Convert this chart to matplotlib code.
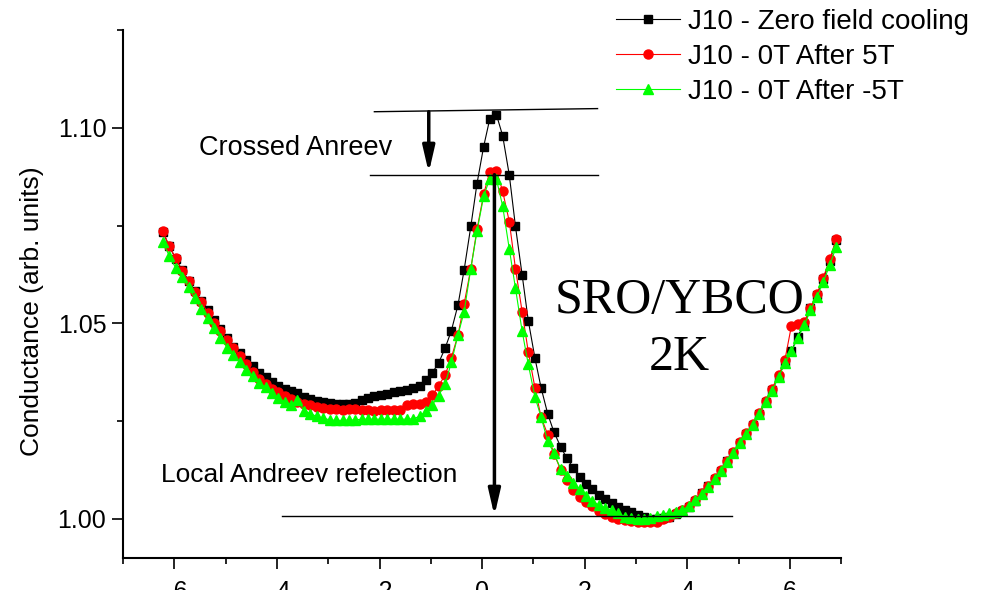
import matplotlib
matplotlib.use('Agg')
import matplotlib.pyplot as plt
from matplotlib.ticker import MultipleLocator, FormatStrFormatter

plt.rcParams['font.family'] = ['Liberation Sans', 'DejaVu Sans']

# bias voltage sweep (mV)
bias = [-6.22, -6.10, -5.97, -5.85, -5.72, -5.60, -5.47, -5.35, -5.22, -5.10,
        -4.97, -4.85, -4.72, -4.60, -4.47, -4.35, -4.22, -4.10, -3.97, -3.85,
        -3.72, -3.60, -3.47, -3.35, -3.22, -3.10, -2.97, -2.85, -2.72, -2.60,
        -2.47, -2.35, -2.22, -2.10, -1.97, -1.85, -1.72, -1.60, -1.47, -1.35,
        -1.22, -1.10, -0.97, -0.85, -0.72, -0.60, -0.47, -0.35, -0.22, -0.10,
        0.03, 0.15, 0.28, 0.40, 0.53, 0.65, 0.78, 0.90, 1.03, 1.15,
        1.28, 1.40, 1.53, 1.65, 1.78, 1.90, 2.03, 2.15, 2.28, 2.40,
        2.53, 2.65, 2.78, 2.90, 3.03, 3.15, 3.28, 3.40, 3.53, 3.65,
        3.78, 3.90, 4.03, 4.15, 4.28, 4.40, 4.53, 4.65, 4.78, 4.90,
        5.03, 5.15, 5.28, 5.40, 5.53, 5.65, 5.78, 5.90, 6.03, 6.15,
        6.28, 6.40, 6.53, 6.65, 6.78, 6.90]

# normalized conductance, zero field cooling
g_zfc = [1.0733, 1.0697, 1.0665, 1.0636, 1.0609, 1.0582, 1.0557, 1.0533, 1.0508, 1.0485,
         1.0462, 1.0440, 1.0425, 1.0407, 1.0390, 1.0374, 1.0362, 1.0350, 1.0341, 1.0333,
         1.0327, 1.0321, 1.0312, 1.0306, 1.0301, 1.0298, 1.0296, 1.0294, 1.0293, 1.0293,
         1.0296, 1.0303, 1.0308, 1.0313, 1.0317, 1.0320, 1.0324, 1.0327, 1.0330, 1.0334,
         1.0340, 1.0356, 1.0374, 1.0398, 1.0437, 1.0481, 1.0547, 1.0637, 1.0748, 1.0857,
         1.0952, 1.1023, 1.1033, 1.0980, 1.0879, 1.0748, 1.0624, 1.0507, 1.0411, 1.0335,
         1.0268, 1.0222, 1.0185, 1.0155, 1.0130, 1.0108, 1.0090, 1.0076, 1.0062, 1.0051,
         1.0040, 1.0031, 1.0023, 1.0018, 1.0010, 1.0004, 1.0000, 0.9999, 1.0002, 1.0006,
         1.0012, 1.0020, 1.0031, 1.0047, 1.0065, 1.0083, 1.0103, 1.0123, 1.0147, 1.0169,
         1.0194, 1.0217, 1.0240, 1.0268, 1.0299, 1.0329, 1.0364, 1.0400, 1.0429, 1.0466,
         1.0498, 1.0538, 1.0573, 1.0613, 1.0660, 1.0712]

# 0T after 5T
g_p5 = [1.0735, 1.0697, 1.0666, 1.0634, 1.0608, 1.0580, 1.0555, 1.0527, 1.0501, 1.0480,
        1.0458, 1.0437, 1.0416, 1.0395, 1.0375, 1.0358, 1.0344, 1.0331, 1.0325, 1.0314,
        1.0306, 1.0300, 1.0295, 1.0290, 1.0286, 1.0283, 1.0281, 1.0282, 1.0279, 1.0280,
        1.0280, 1.0278, 1.0278, 1.0277, 1.0279, 1.0279, 1.0278, 1.0279, 1.0292, 1.0294,
        1.0293, 1.0300, 1.0316, 1.0340, 1.0368, 1.0412, 1.0470, 1.0550, 1.0640, 1.0740,
        1.0830, 1.0888, 1.0890, 1.0838, 1.0760, 1.0640, 1.0530, 1.0427, 1.0335, 1.0260,
        1.0215, 1.0167, 1.0126, 1.0100, 1.0074, 1.0056, 1.0043, 1.0032, 1.0021, 1.0013,
        1.0005, 1.0001, 0.9997, 0.9995, 0.9993, 0.9993, 0.9993, 0.9993, 0.9999, 1.0006,
        1.0014, 1.0022, 1.0032, 1.0048, 1.0066, 1.0084, 1.0104, 1.0125, 1.0149, 1.0171,
        1.0196, 1.0219, 1.0243, 1.0272, 1.0302, 1.0333, 1.0367, 1.0405, 1.0494, 1.0498,
        1.0503, 1.0540, 1.0576, 1.0617, 1.0664, 1.0716]

# 0T after -5T
g_m5 = [1.0707, 1.0673, 1.0641, 1.0618, 1.0593, 1.0564, 1.0536, 1.0513, 1.0488, 1.0462,
        1.0438, 1.0419, 1.0400, 1.0381, 1.0366, 1.0347, 1.0338, 1.0323, 1.0309, 1.0300,
        1.0292, 1.0305, 1.0277, 1.0269, 1.0262, 1.0258, 1.0253, 1.0252, 1.0252, 1.0253,
        1.0253, 1.0255, 1.0255, 1.0255, 1.0255, 1.0255, 1.0255, 1.0255, 1.0255, 1.0256,
        1.0262, 1.0275, 1.0292, 1.0315, 1.0345, 1.0400, 1.0470, 1.0530, 1.0640, 1.0735,
        1.0825, 1.0870, 1.0868, 1.0800, 1.0690, 1.0590, 1.0480, 1.0395, 1.0312, 1.0260,
        1.0198, 1.0168, 1.0128, 1.0110, 1.0093, 1.0076, 1.0058, 1.0045, 1.0035, 1.0029,
        1.0022, 1.0014, 1.0006, 1.0002, 1.0000, 1.0001, 1.0003, 1.0007, 1.0010, 1.0014,
        1.0018, 1.0024, 1.0032, 1.0048, 1.0064, 1.0082, 1.0101, 1.0122, 1.0146, 1.0169,
        1.0193, 1.0216, 1.0240, 1.0268, 1.0298, 1.0328, 1.0362, 1.0398, 1.0428, 1.0462,
        1.0495, 1.0533, 1.0568, 1.0606, 1.0650, 1.0695]

labels = ['J10 - Zero field cooling', 'J10 - 0T After 5T', 'J10 - 0T After -5T']

fig = plt.figure(figsize=(9.92, 5.90), dpi=100)
ax = fig.add_axes([0.124, 0.0542, 0.724, 0.8950])

ax.plot(bias, g_zfc, '-s', color='black', lw=0.8, ms=5.5, label=labels[0])
ax.plot(bias, g_p5, '-o', color='#ff0000', lw=0.8, ms=6.5, label=labels[1])
ax.plot(bias, g_m5, '-^', color='#00ff00', lw=0.8, ms=6.5, label=labels[2])

# guide lines for the peak heights and the background level
ax.plot([-2.10, 2.25], [1.1041, 1.1049], color='black', lw=1.0)
ax.plot([-2.19, 2.25], [1.0880, 1.0880], color='black', lw=1.0)
ax.plot([-3.91, 4.88], [1.0008, 1.0008], color='black', lw=1.0)

arrow_style = dict(arrowstyle='-|>,head_length=1.3,head_width=0.3',
                   mutation_scale=12, color='black', lw=2.5, shrinkA=0, shrinkB=0)
ax.annotate('', xy=(-1.04, 1.0885), xytext=(-1.04, 1.1041), arrowprops=arrow_style)
ax.annotate('', xy=(0.24, 1.0008), xytext=(0.24, 1.0880), arrowprops=arrow_style)

ax.text(-5.51, 1.0931, 'Crossed Anreev', fontsize=19.5)
ax.text(-6.25, 1.0095, 'Local Andreev refelection', fontsize=19)
ax.text(3.85, 1.0527, 'SRO/YBCO', fontsize=36, family='Liberation Serif', ha='center')
ax.text(3.85, 1.0380, '2K', fontsize=36, family='Liberation Serif', ha='center')

ax.set_xlim(-7, 7)
ax.set_ylim(0.99, 1.125)
ax.xaxis.set_major_locator(MultipleLocator(2))
ax.xaxis.set_minor_locator(MultipleLocator(1))
ax.yaxis.set_major_locator(MultipleLocator(0.05))
ax.yaxis.set_minor_locator(MultipleLocator(0.025))
ax.yaxis.set_major_formatter(FormatStrFormatter('%.2f'))

for side in ['top', 'right']:
    ax.spines[side].set_visible(False)
for side in ['left', 'bottom']:
    ax.spines[side].set_linewidth(1.5)
ax.tick_params(which='major', direction='out', length=8, width=1.2, labelsize=18)
ax.tick_params(which='minor', direction='out', length=4.5, width=1.2)
ax.tick_params(axis='x', which='major', pad=8)
ax.tick_params(axis='y', which='major', pad=4)

fig.text(0.032, 0.473, 'Conductance (arb. units)', rotation=90,
         ha='center', va='center', fontsize=19)

fig.legend(loc='upper left', bbox_to_anchor=(0.621, 0.985), frameon=False,
           fontsize=20, handlelength=2.3, handletextpad=0.3, labelspacing=0.33,
           borderpad=0, borderaxespad=0, numpoints=1)

fig.savefig('out.png', dpi=100)
